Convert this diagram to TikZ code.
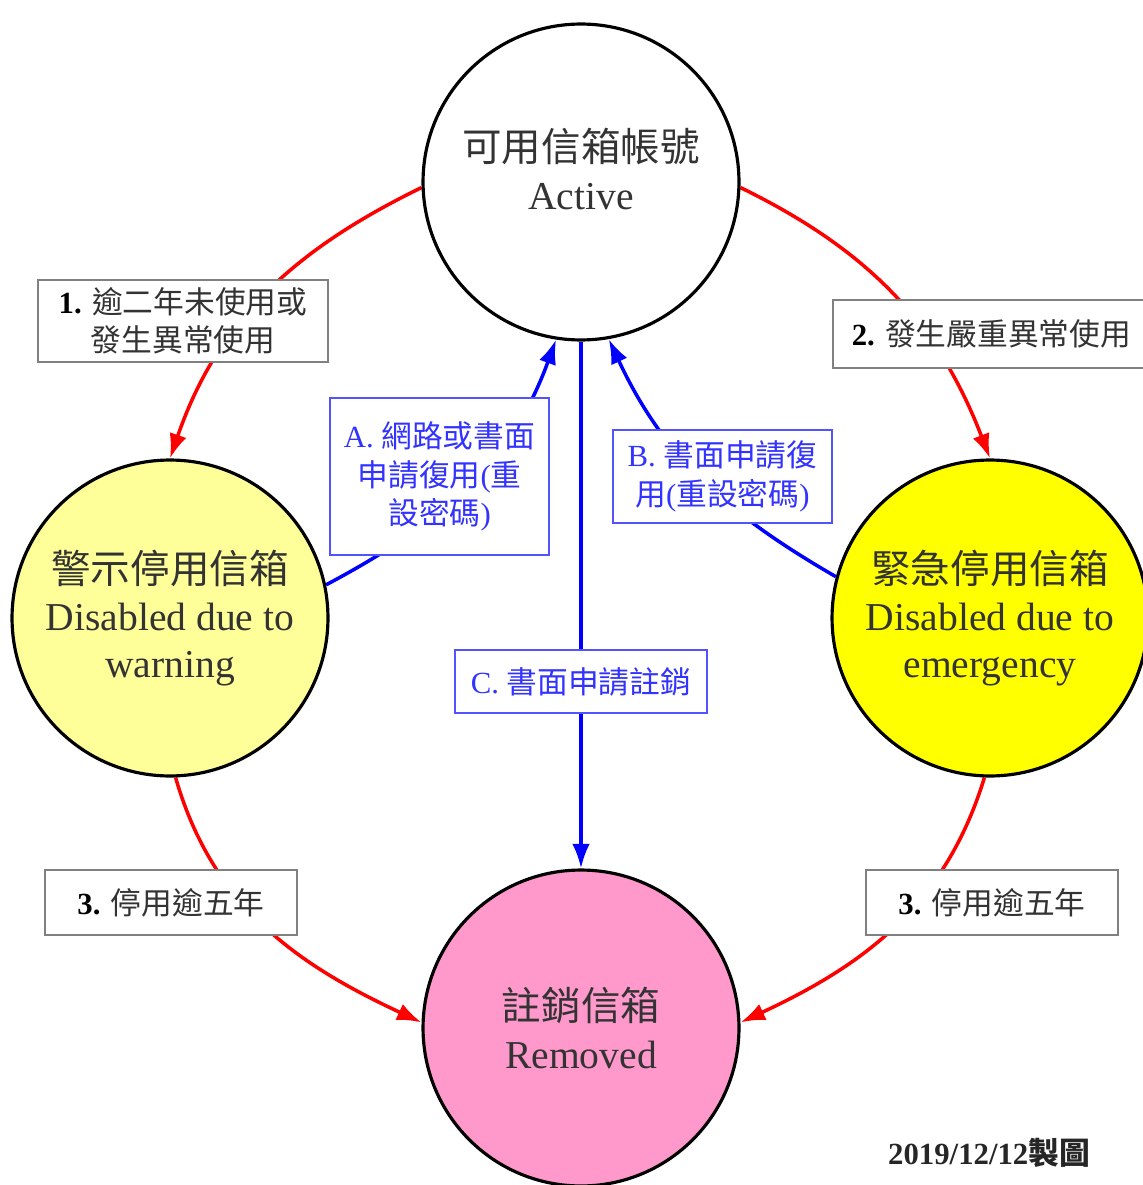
\documentclass[tikz,border=0pt]{standalone}
\usepackage{fontspec}
\setmainfont{Liberation Serif}
\newfontfamily\cjkfont{Noto Sans CJK TC}
\newcommand\zh[1]{{\cjkfont #1}}
\usepackage{tikz}
\usetikzlibrary{arrows.meta,backgrounds}
\definecolor{warnyellow}{RGB}{255,255,153}
\definecolor{emeryellow}{RGB}{255,255,0}
\definecolor{rempink}{RGB}{255,153,204}
\definecolor{labelblue}{RGB}{51,51,255}
\definecolor{textgrey}{RGB}{51,51,51}

\begin{document}
\begin{tikzpicture}[x=0.02cm, y=-0.02cm,
    state/.style   = {circle, draw=black, line width=1.8pt, minimum size=6.32cm, inner sep=0pt,
                      align=center, text=black!80, font=\fontsize{22.5}{27}\selectfont},
    redlbl/.style  = {draw=gray, line width=1.1pt, fill=white, align=center, inner sep=0pt,
                      text=textgrey, font=\fontsize{17.5}{22}\selectfont},
    bluelbl/.style = {draw=labelblue!85, line width=0.9pt, fill=white, align=center, inner sep=0pt,
                      text=labelblue, font=\fontsize{17.5}{22}\selectfont},
    redarc/.style  = {draw=red, line width=2pt, -{Latex[length=14pt,width=10pt]}},
    bluearc/.style = {draw=blue, line width=2pt, -{Latex[length=14pt,width=10pt]}}
  ]
  \useasboundingbox (0,0) rectangle (1142,1185);

  % states
  \node [state] (act) at (581,182) {\zh{可用信箱帳號}\\Active\\[-20pt]\strut};
  \node [state, fill=warnyellow] (warn) at (170,618) {\zh{警示停用信箱}\\Disabled due to\\warning};
  \node [state, fill=emeryellow] (emer) at (990,618) {\zh{緊急停用信箱}\\Disabled due to\\emergency};
  \node [state, fill=rempink] (rem) at (581,1028) {\zh{註銷信箱}\\Removed};

  % rules
  \node [redlbl, minimum width=5.8cm, minimum height=1.64cm] (l1) at (183,321)
    {\textbf{\color{black}1.} \zh{逾二年未使用或}\\\zh{發生異常使用}};
  \node [redlbl, minimum width=6.34cm, minimum height=1.36cm] (l2) at (991.5,334)
    {\textbf{\color{black}2.} \zh{發生嚴重異常使用}};
  \node [redlbl, minimum width=5.04cm, minimum height=1.3cm] (l3a) at (171,902.5)
    {\textbf{\color{black}3.} \zh{停用逾五年}};
  \node [redlbl, minimum width=5.04cm, minimum height=1.3cm] (l3b) at (992,902.5)
    {\textbf{\color{black}3.} \zh{停用逾五年}};

  % requests
  \node [bluelbl, minimum width=4.38cm, minimum height=3.14cm] (la) at (439.5,476.5)
    {A. \zh{網路或書面}\\\zh{申請復用}(\zh{重}\\\zh{設密碼})};
  \node [bluelbl, minimum width=4.38cm, minimum height=1.86cm] (lb) at (722.5,476.5)
    {B. \zh{書面申請復}\\\zh{用}(\zh{重設密碼})};
  \node [bluelbl, minimum width=5.04cm, minimum height=1.26cm] (lc) at (581,681.5)
    {C. \zh{書面申請註銷}};

  \node [font=\bfseries\fontsize{17.5}{20}\selectfont, text=black!85] (date) at (989,1153)
    {2019/12/12\zh{製圖}};

  \begin{scope}[on background layer]
    \path
        (act.182)  edge [redarc, out=206, in=71]   (warn.north)
        (act.358)  edge [redarc, out=334, in=111]  (emer.north)
        (warn.272) edge [redarc, out=286, in=155]  (rem.178)
        (emer.268) edge [redarc, out=253, in=25]   (rem.2)
        (warn.12)  edge [bluearc, out=28, in=250]  (act.261)
        (emer.165) edge [bluearc, out=150, in=295] (act.280)
        (act.south) edge [bluearc] (rem.north);
  \end{scope}
\end{tikzpicture}
\end{document}
